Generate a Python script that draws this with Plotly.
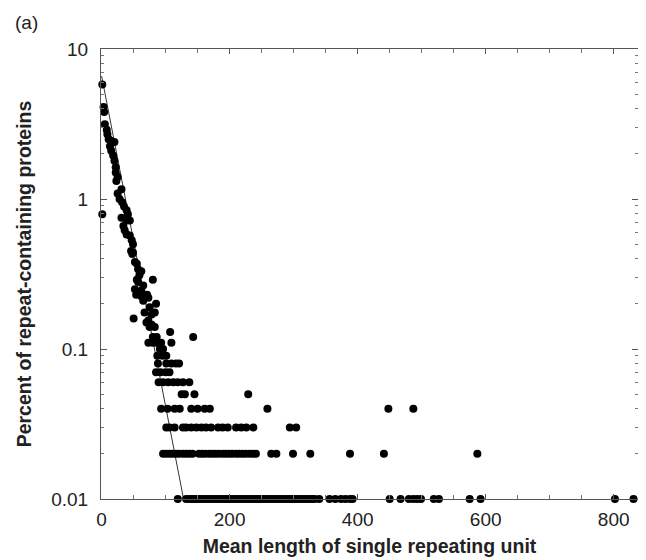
import plotly.graph_objects as go

# Upper (non-quantized) points: mean length, percent
upper_x = [1, 3, 4, 5, 8, 9, 11, 14, 20, 13, 15, 18, 20, 22, 22, 25, 23, 31, 25, 1,
           28, 32, 35, 39, 41, 31, 39, 44, 34, 36, 39, 44, 47, 49, 46, 49, 48, 52, 55, 57,
           62, 59, 55, 57, 80, 65, 52, 62, 54, 62, 71, 65, 73, 85, 75, 67, 78, 83, 50, 70,
           73, 78, 75, 83, 107, 80, 86, 143]
upper_y = [5.8, 4.1, 3.8, 3.15, 2.9, 2.7, 2.5, 2.45, 2.4, 2.25, 2.1, 1.95, 1.8, 1.63, 1.5, 1.4, 1.32, 1.16, 1.09, 0.79,
           1.0, 0.95, 0.89, 0.84, 0.79, 0.75, 0.72, 0.72, 0.66, 0.62, 0.58, 0.57, 0.53, 0.50, 0.45, 0.44, 0.43, 0.38, 0.37, 0.34,
           0.33, 0.31, 0.29, 0.28, 0.29, 0.265, 0.25, 0.245, 0.23, 0.225, 0.23, 0.21, 0.22, 0.20, 0.19, 0.175, 0.17, 0.175, 0.16, 0.15,
           0.155, 0.145, 0.14, 0.14, 0.13, 0.12, 0.12, 0.12]

# Quantized low rows (percent value -> mean lengths)
row_011 = [73, 80, 86, 93, 109]
row_010 = [91, 96]
row_009 = [87, 95, 101]
row_008 = [88, 101, 109, 116, 121]
row_007 = [85, 92, 100, 106]
row_006 = [89, 96, 104, 112, 119, 127, 137]
row_005 = [125, 130, 145, 229]
row_004 = [93, 103, 114, 122, 140, 150, 161, 169, 259, 448, 487]
row_003 = [101, 106, 114, 127, 132, 140, 148, 156, 163, 171, 182, 189, 197, 210, 218, 226, 237, 294, 304]
row_002 = [96, 101, 106, 111, 116, 121, 127, 132, 137, 142, 152, 157, 162, 168, 173, 178, 183, 189, 194,
           199, 204, 210, 215, 220, 225, 231, 236, 241, 265, 273, 299, 326, 388, 441, 587]
row_001 = [119, 132, 137, 141, 145, 149, 153, 157, 161, 165, 169, 173, 177, 181, 185, 189, 193, 197, 201,
           205, 209, 213, 217, 221, 225, 229, 233, 237, 241, 245, 249, 253, 257, 261, 265, 269, 273, 277,
           281, 285, 289, 293, 297, 301, 305, 309, 313, 317, 321, 325, 329, 333, 340, 356, 365, 374, 381,
           388, 392, 450, 467, 480, 487, 493, 499, 519, 527, 575, 592, 802, 831]
rows = [(0.11, row_011), (0.10, row_010), (0.09, row_009), (0.08, row_008), (0.07, row_007),
        (0.06, row_006), (0.05, row_005), (0.04, row_004), (0.03, row_003), (0.02, row_002),
        (0.01, row_001)]

# Exponential fit line endpoints
fit_x = [0, 128]
fit_y = [6.6, 0.01]

y_ticks = [0.01, 0.1, 1, 10]
y_ticktext = ["0.01", "0.1", "1", "10"]
y_minor = [0.02, 0.03, 0.04, 0.05, 0.06, 0.07, 0.08, 0.09,
           0.2, 0.3, 0.4, 0.5, 0.6, 0.7, 0.8, 0.9,
           2, 3, 4, 5, 6, 7, 8, 9]
x_ticks = [0, 200, 400, 600, 800]

all_x = list(upper_x)
all_y = list(upper_y)
for val, xs in rows:
    all_x += xs
    all_y += [val] * len(xs)

fig = go.Figure()
fig.add_trace(go.Scatter(x=fit_x, y=fit_y, mode="lines",
                         line=dict(color="#333333", width=1), hoverinfo="skip"))
fig.add_trace(go.Scatter(x=all_x, y=all_y, mode="markers",
                         marker=dict(color="black", size=8), cliponaxis=False))

font = "Liberation Sans, Arial, Helvetica, sans-serif"
fig.update_layout(
    width=638, height=552,
    margin=dict(l=93, r=7, t=41, b=59),
    paper_bgcolor="white", plot_bgcolor="white",
    showlegend=False,
    font=dict(family=font, color="#222222", size=19),
    xaxis=dict(range=[-1, 838], tickvals=x_ticks, ticks="inside", ticklen=5,
               tickcolor="#555555", showline=True, linecolor="#555555", linewidth=1,
               mirror="ticks", showgrid=False, zeroline=False,
               tickfont=dict(size=19), ticklabelstandoff=3,
               minor=dict(dtick=50, tick0=0, ticks="inside", ticklen=4, tickcolor="#777777"),
               title=dict(text="<b>Mean length of single repeating unit</b>",
                          font=dict(size=19.5), standoff=10)),
    yaxis=dict(type="log", range=[-2, 1], tickvals=y_ticks, ticktext=y_ticktext,
               ticks="inside", ticklen=6, tickcolor="#555555", showline=True,
               linecolor="#555555", linewidth=1, mirror="ticks", showgrid=False,
               zeroline=False, tickfont=dict(size=19), ticklabelstandoff=8,
               minor=dict(tickvals=y_minor, ticks="inside", ticklen=3, tickcolor="#777777"),
               title=dict(text="<b>Percent of repeat-containing proteins</b>",
                          font=dict(size=19.5), standoff=14)),
    annotations=[dict(text="(a)", xref="paper", yref="paper", showarrow=False,
                      x=-88 / 539, y=1 + 39 / 452,
                      xanchor="left", yanchor="top", font=dict(size=19))],
)

fig.write_html("out.html")
